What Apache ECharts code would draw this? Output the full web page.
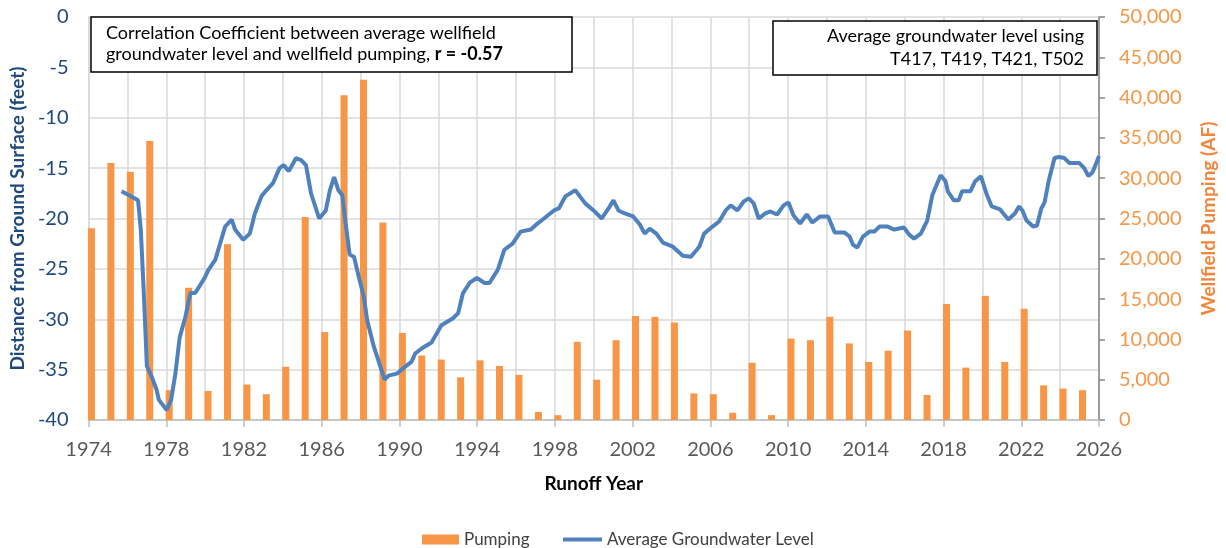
<!DOCTYPE html>
<html>
<head>
<meta charset="utf-8">
<title>Wellfield pumping and groundwater level</title>
<script src="https://cdn.jsdelivr.net/npm/echarts@6/dist/echarts.min.js"></script>
<style>
    html, body {margin: 0; padding: 0; background: #fff;}
    #chart {width: 1226px; height: 548px;}
</style>
</head>
<body>
<div id="chart"></div>
<script>
    // pumping per runoff year (AF)
    var pumpYears = [1974, 1975, 1976, 1977, 1978, 1979, 1980, 1981, 1982, 1983, 1984, 1985, 1986,
        1987, 1988, 1989, 1990, 1991, 1992, 1993, 1994, 1995, 1996, 1997, 1998, 1999, 2000, 2001,
        2002, 2003, 2004, 2005, 2006, 2007, 2008, 2009, 2010, 2011, 2012, 2013, 2014, 2015, 2016,
        2017, 2018, 2019, 2020, 2021, 2022, 2023, 2024, 2025];
    var pumpValues = [23800, 31900, 30800, 34600, 3700, 16400, 3600, 21800, 4400, 3200, 6600, 25200, 10900,
        40300, 42200, 24500, 10800, 8000, 7500, 5300, 7400, 6700, 5600, 1000, 600, 9700, 5000, 9900,
        12900, 12800, 12100, 3300, 3200, 900, 7100, 600, 10100, 9900, 12800, 9500, 7200, 8600, 11100,
        3100, 14400, 6500, 15400, 7200, 13800, 4300, 3900, 3700];

    // average groundwater level (feet below ground surface)
    var levelDates = [1975.70, 1976.18, 1976.55, 1976.69, 1976.83, 1976.94, 1977.00, 1977.29, 1977.50, 1977.62,
        1978.02, 1978.25, 1978.47, 1978.69, 1978.98, 1979.24, 1979.49, 1979.75, 1980.00, 1980.17,
        1980.52, 1980.77, 1981.03, 1981.37, 1981.54, 1981.96, 1982.30, 1982.56, 1982.90, 1983.15,
        1983.49, 1983.83, 1984.04, 1984.31, 1984.68, 1984.94, 1985.19, 1985.45, 1985.87, 1986.21,
        1986.42, 1986.64, 1986.86, 1987.06, 1987.23, 1987.44, 1987.66, 1987.91, 1988.17, 1988.34,
        1988.68, 1989.02, 1989.24, 1989.44, 1989.87, 1990.30, 1990.63, 1990.81, 1991.14, 1991.65,
        1992.16, 1992.76, 1993.02, 1993.27, 1993.61, 1993.98, 1994.38, 1994.63, 1995.06, 1995.40,
        1995.82, 1996.24, 1996.76, 1997.10, 1997.44, 1997.95, 1998.20, 1998.54, 1999.05, 1999.56,
        1999.99, 2000.41, 2000.76, 2001.01, 2001.27, 2001.60, 2002.03, 2002.37, 2002.62, 2002.88,
        2003.22, 2003.56, 2004.07, 2004.58, 2005.00, 2005.43, 2005.68, 2006.11, 2006.45, 2006.79,
        2007.05, 2007.39, 2007.72, 2007.98, 2008.23, 2008.49, 2008.83, 2009.09, 2009.43, 2009.77,
        2010.02, 2010.28, 2010.62, 2010.96, 2011.25, 2011.64, 2012.06, 2012.40, 2012.91, 2013.17,
        2013.34, 2013.56, 2013.85, 2014.19, 2014.44, 2014.70, 2015.12, 2015.46, 2015.97, 2016.23,
        2016.48, 2016.83, 2017.16, 2017.42, 2017.85, 2018.10, 2018.22, 2018.53, 2018.78, 2018.95,
        2019.38, 2019.63, 2019.92, 2020.22, 2020.48, 2020.91, 2021.33, 2021.67, 2021.89, 2022.06,
        2022.27, 2022.61, 2022.81, 2023.03, 2023.20, 2023.42, 2023.71, 2023.93, 2024.22, 2024.48,
        2024.99, 2025.24, 2025.46, 2025.67, 2025.84, 2026.00];
    var levelValues = [-17.3, -17.8, -18.2, -21.1, -26.8, -31.7, -34.6, -35.9, -37.0, -38.0,
        -39.0, -38.0, -35.4, -31.8, -29.8, -27.4, -27.4, -26.6, -25.8, -25.1,
        -24.1, -22.5, -20.8, -20.1, -21.1, -22.1, -21.5, -19.5, -17.8, -17.2,
        -16.5, -15.0, -14.7, -15.3, -14.0, -14.2, -14.7, -17.5, -20.0, -19.2,
        -17.2, -15.9, -17.2, -17.7, -20.5, -23.6, -23.8, -25.8, -27.8, -30.1,
        -32.7, -34.7, -36.0, -35.6, -35.4, -34.7, -34.2, -33.4, -32.9, -32.3,
        -30.6, -29.9, -29.4, -27.4, -26.4, -25.9, -26.4, -26.4, -25.1, -23.1,
        -22.5, -21.3, -21.1, -20.5, -20.0, -19.2, -19.0, -17.8, -17.2, -18.5,
        -19.2, -20.0, -19.0, -18.2, -19.2, -19.5, -19.8, -20.6, -21.5, -21.0,
        -21.5, -22.4, -22.8, -23.7, -23.8, -22.8, -21.5, -20.8, -20.3, -19.2,
        -18.7, -19.2, -18.3, -18.0, -18.5, -20.0, -19.5, -19.3, -19.6, -18.7,
        -18.4, -19.7, -20.5, -19.6, -20.4, -19.8, -19.8, -21.4, -21.4, -21.8,
        -22.6, -22.9, -21.8, -21.3, -21.3, -20.8, -20.8, -21.1, -20.9, -21.6,
        -22.0, -21.5, -20.2, -17.7, -15.7, -16.3, -17.3, -18.2, -18.2, -17.3,
        -17.3, -16.3, -15.8, -17.6, -18.8, -19.1, -20.1, -19.5, -18.8, -19.2,
        -20.2, -20.8, -20.7, -19.0, -18.4, -16.2, -14.0, -13.9, -14.0, -14.5,
        -14.5, -15.0, -15.8, -15.4, -14.6, -13.8];

    var FONT = 'Lato, "Open Sans", sans-serif';
    var BLUE_TEXT = '#1F497D';
    var ORANGE = '#F79646';
    var LINE_BLUE = '#4F81BD';

    var pumpData = [];
    for (var i = 0; i < pumpYears.length; i++) {
        // bars sit a little after the year tick, like the source chart
        pumpData.push([pumpYears[i] + 0.15, pumpValues[i]]);
    }
    var levelData = [];
    for (var j = 0; j < levelDates.length; j++) {
        levelData.push([levelDates[j], levelValues[j]]);
    }

    var legendText = {fontFamily: FONT, fontSize: 17, color: '#404040'};

    var chart = echarts.init(document.getElementById('chart'));
    var option = {
        animation: false,
        textStyle: {fontFamily: FONT},
        grid: {left: 87, right: 119, top: 17, bottom: 128},
        // two legends so each key can have its own icon height
        legend: [
            {
                top: 526,
                left: 417,
                itemWidth: 37,
                itemHeight: 10,
                textStyle: legendText,
                data: [{name: 'Pumping', icon: 'rect'}]
            },
            {
                top: 526,
                left: 558,
                itemWidth: 39,
                itemHeight: 4,
                textStyle: legendText,
                data: [{name: 'Average Groundwater Level', icon: 'rect'}]
            }
        ],
        xAxis: {
            type: 'value',
            min: 1974,
            max: 2026,
            interval: 4,
            name: 'Runoff Year',
            nameLocation: 'middle',
            nameGap: 54,
            nameTextStyle: {fontFamily: FONT, fontSize: 19, fontWeight: 'bold', color: '#000'},
            axisLine: {onZero: false, lineStyle: {color: '#BFBFBF', width: 1.5}},
            axisTick: {show: true, length: 7, lineStyle: {color: '#BFBFBF', width: 1.5}},
            axisLabel: {
                fontFamily: FONT, fontSize: 20, color: '#595959', margin: 20,
                formatter: function (v) { return String(v); }
            },
            splitLine: {show: true, lineStyle: {color: '#D9D9D9', width: 1.5}},
            minorTick: {show: false, splitNumber: 2},
            minorSplitLine: {show: true, lineStyle: {color: '#D9D9D9', width: 1.5}}
        },
        yAxis: [
            {
                type: 'value',
                min: -40,
                max: 0,
                interval: 5,
                name: 'Distance from Ground Surface (feet)',
                nameLocation: 'middle',
                nameGap: 58,
                nameTextStyle: {fontFamily: FONT, fontSize: 19, fontWeight: 'bold', color: BLUE_TEXT},
                axisLine: {show: true, onZero: false, lineStyle: {color: '#D9D9D9', width: 1.5}},
                axisTick: {show: false},
                axisLabel: {fontFamily: FONT, fontSize: 20, color: BLUE_TEXT, margin: 20},
                splitLine: {show: true, lineStyle: {color: '#D9D9D9', width: 1.5}}
            },
            {
                type: 'value',
                min: 0,
                max: 50000,
                interval: 5000,
                position: 'right',
                name: 'Wellfield Pumping (AF)',
                nameLocation: 'middle',
                nameGap: 100,
                nameRotate: 90,
                nameTextStyle: {fontFamily: FONT, fontSize: 19, fontWeight: 'bold', color: '#F2853C'},
                axisLine: {show: true, lineStyle: {color: '#868686', width: 1.5}},
                axisTick: {show: true, length: 6, lineStyle: {color: '#868686', width: 1.5}},
                axisLabel: {
                    fontFamily: FONT, fontSize: 20, color: ORANGE, margin: 20,
                    formatter: function (v) { return v.toLocaleString('en-US'); }
                },
                splitLine: {show: false}
            }
        ],
        graphic: [
            {
                type: 'rect',
                shape: {x: 91, y: 17, width: 481, height: 55},
                style: {fill: '#fff', stroke: '#000', lineWidth: 1.5},
                z: 100
            },
            {
                type: 'text',
                x: 106,
                y: 23,
                z: 101,
                style: {
                    text: '{n|Correlation Coefficient between average wellfield}\n{n|groundwater level and wellfield pumping, }{b|r = -0.57}',
                    rich: {
                        n: {fontFamily: FONT, fontSize: 18, lineHeight: 21, fill: '#000'},
                        b: {fontFamily: FONT, fontSize: 18, lineHeight: 21, fontWeight: 'bold', fill: '#000'}
                    }
                }
            },
            {
                type: 'rect',
                shape: {x: 773, y: 21, width: 324, height: 54},
                style: {fill: '#fff', stroke: '#000', lineWidth: 1.5},
                z: 100
            },
            {
                type: 'text',
                x: 1084,
                y: 25,
                z: 101,
                style: {
                    text: 'Average groundwater level using\nT417, T419, T421, T502',
                    align: 'right',
                    fontFamily: FONT,
                    fontSize: 18,
                    lineHeight: 23,
                    fill: '#000'
                }
            }
        ],
        series: [
            {
                name: 'Pumping',
                type: 'bar',
                yAxisIndex: 1,
                barWidth: 7,
                itemStyle: {color: ORANGE},
                data: pumpData
            },
            {
                name: 'Average Groundwater Level',
                type: 'line',
                yAxisIndex: 0,
                symbol: 'none',
                lineStyle: {color: LINE_BLUE, width: 4},
                itemStyle: {color: LINE_BLUE},
                z: 5,
                data: levelData
            }
        ]
    };
    chart.setOption(option);
</script>
</body>
</html>
